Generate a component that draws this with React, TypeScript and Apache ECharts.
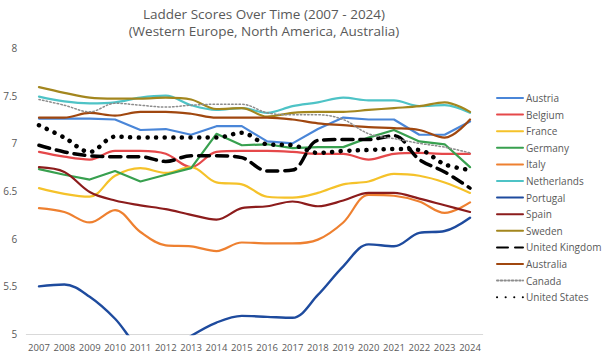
import React, { useEffect, useRef } from "react";
import * as echarts from "echarts";

const years = ["2007","2008","2009","2010","2011","2012","2013","2014","2015","2016","2017","2018","2019","2020","2021","2022","2023","2024"];
const yTicks = [5, 5.5, 6, 6.5, 7, 7.5, 8];

const austria = [7.26, 7.26, 7.26, 7.25, 7.14, 7.15, 7.09, 7.18, 7.18, 7.02, 7.0, 7.15, 7.27, 7.25, 7.25, 7.09, 7.09, 7.23];
const belgium = [6.91, 6.86, 6.83, 6.92, 6.92, 6.89, 6.75, 6.91, 6.92, 6.92, 6.91, 6.89, 6.89, 6.83, 6.89, 6.9, 6.89, 6.89];
const france = [6.53, 6.47, 6.44, 6.66, 6.74, 6.69, 6.75, 6.59, 6.57, 6.44, 6.43, 6.48, 6.57, 6.6, 6.68, 6.66, 6.59, 6.48];
const germany = [6.73, 6.67, 6.62, 6.71, 6.6, 6.67, 6.74, 7.1, 6.98, 6.99, 6.95, 6.96, 6.96, 7.06, 7.14, 7.02, 6.99, 6.75];
const italy = [6.32, 6.28, 6.17, 6.3, 6.07, 5.93, 5.92, 5.87, 5.96, 5.95, 5.95, 5.99, 6.17, 6.46, 6.45, 6.39, 6.27, 6.38];
const netherlands = [7.49, 7.44, 7.42, 7.43, 7.48, 7.5, 7.4, 7.35, 7.37, 7.32, 7.39, 7.43, 7.48, 7.45, 7.45, 7.39, 7.4, 7.32];
const portugal = [5.5, 5.52, 5.39, 5.16, 4.85, 4.8, 4.98, 5.12, 5.19, 5.18, 5.17, 5.41, 5.71, 5.94, 5.92, 6.06, 6.08, 6.22];
const spain = [6.75, 6.7, 6.49, 6.4, 6.35, 6.31, 6.25, 6.2, 6.32, 6.34, 6.39, 6.34, 6.4, 6.48, 6.48, 6.42, 6.35, 6.28];
const sweden = [7.59, 7.53, 7.48, 7.47, 7.47, 7.48, 7.46, 7.36, 7.37, 7.28, 7.32, 7.33, 7.33, 7.35, 7.37, 7.39, 7.43, 7.33];
const unitedKingdom = [6.98, 6.91, 6.87, 6.86, 6.86, 6.81, 6.87, 6.87, 6.85, 6.71, 6.72, 7.03, 7.04, 7.04, 7.08, 6.83, 6.7, 6.53];
const australia = [7.27, 7.27, 7.32, 7.29, 7.33, 7.33, 7.31, 7.27, 7.27, 7.27, 7.25, 7.21, 7.19, 7.17, 7.16, 7.14, 7.06, 7.25];
const canada = [7.46, 7.4, 7.33, 7.42, 7.4, 7.38, 7.4, 7.41, 7.41, 7.32, 7.3, 7.3, 7.25, 7.1, 7.05, 7.0, 6.96, 6.9];
const unitedStates = [7.19, 7.06, 6.91, 7.07, 7.06, 7.06, 7.06, 7.06, 7.11, 6.99, 6.98, 6.9, 6.92, 6.93, 6.94, 6.93, 6.78, 6.72];

const seriesDefs = [
  { name: "Austria", data: austria, color: "#4A86D8", smooth: false, width: 2.2, type: "solid" as any },
  { name: "Belgium", data: belgium, color: "#E5484A", smooth: true, width: 2.2, type: "solid" as any },
  { name: "France", data: france, color: "#F5C22A", smooth: true, width: 2.2, type: "solid" as any },
  { name: "Germany", data: germany, color: "#38A04F", smooth: false, width: 2.2, type: "solid" as any },
  { name: "Italy", data: italy, color: "#EE8030", smooth: true, width: 2.2, type: "solid" as any },
  { name: "Netherlands", data: netherlands, color: "#4EC3C6", smooth: true, width: 2.2, type: "solid" as any },
  { name: "Portugal", data: portugal, color: "#1E4B9E", smooth: true, width: 2.4, type: "solid" as any },
  { name: "Spain", data: spain, color: "#8C1C1C", smooth: true, width: 2.2, type: "solid" as any },
  { name: "Sweden", data: sweden, color: "#A3861E", smooth: true, width: 2.2, type: "solid" as any },
  { name: "United Kingdom", data: unitedKingdom, color: "#000000", smooth: true, width: 3.5, type: [11, 7] as any },
  { name: "Australia", data: australia, color: "#A0470F", smooth: true, width: 2.2, type: "solid" as any },
  { name: "Canada", data: canada, color: "#8C8C8C", smooth: true, width: 1.5, type: [1.5, 2.2] as any },
  { name: "United States", data: unitedStates, color: "#000000", smooth: true, width: 4.5, type: [0.1, 8.5] as any },
];

const FONT = "'Open Sans', sans-serif";

export default function App() {
  const ref = useRef<HTMLDivElement>(null);
  useEffect(() => {
    if (!ref.current) return;
    const chart = echarts.init(ref.current, null, { renderer: "svg" });
    chart.setOption({
      animation: false,
      backgroundColor: "#ffffff",
      textStyle: { fontFamily: FONT },
      graphic: [
        {
          type: "text",
          x: 264,
          y: 14,
          style: {
            text: "Ladder Scores Over Time (2007 - 2024)",
            fill: "#595959",
            fontSize: 13.5,
            fontFamily: FONT,
            textAlign: "center",
            textVerticalAlign: "middle",
          },
        },
        {
          type: "text",
          x: 264,
          y: 31,
          style: {
            text: "(Western Europe, North America, Australia)",
            fill: "#595959",
            fontSize: 13.5,
            fontFamily: FONT,
            textAlign: "center",
            textVerticalAlign: "middle",
          },
        },
      ],
      legend: {
        orient: "vertical",
        left: 496,
        top: 93,
        padding: 0,
        itemWidth: 26,
        itemHeight: 10,
        itemGap: 6.6,
        itemStyle: { opacity: 0 },
        textStyle: { color: "#595959", fontSize: 10, fontFamily: FONT, padding: [0, 0, 0, -2] },
        data: seriesDefs.map((s) => s.name),
      },
      grid: { left: 26.3, top: 48, width: 456.4, height: 286, containLabel: false },
      xAxis: {
        type: "category",
        data: years,
        boundaryGap: true,
        axisLine: { lineStyle: { color: "#D9D9D9", width: 1 } },
        axisTick: { show: false },
        axisLabel: { color: "#595959", fontSize: 9.5, margin: 8, interval: 0, fontFamily: FONT },
        splitLine: { show: false },
      },
      yAxis: {
        type: "value",
        min: yTicks[0],
        max: yTicks[yTicks.length - 1],
        interval: 0.5,
        axisLine: { show: false },
        axisTick: { show: false },
        splitLine: { show: false },
        axisLabel: { color: "#595959", fontSize: 10, margin: 9, fontFamily: FONT },
      },
      series: seriesDefs.map((s) => ({
        name: s.name,
        type: "line",
        data: s.data,
        smooth: s.smooth ? 0.35 : false,
        symbol: "none",
        clip: true,
        color: s.color,
        lineStyle: { color: s.color, width: s.width, type: s.type, cap: "round", join: "round" },
      })),
    });
    return () => chart.dispose();
  }, []);
  return <div ref={ref} style={{ width: 604, height: 355, position: "absolute", left: 0, top: 0 }} />;
}
